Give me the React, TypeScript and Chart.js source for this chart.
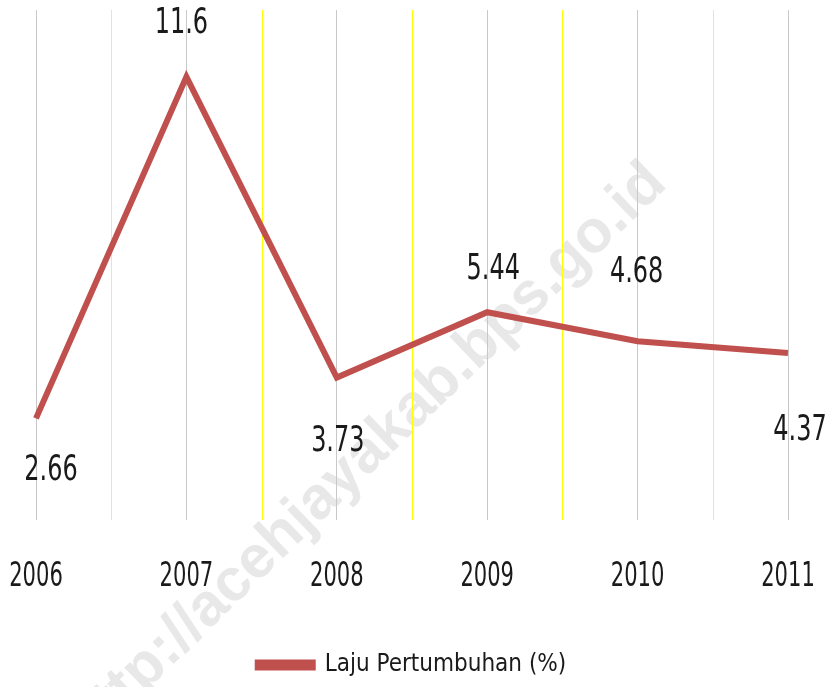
import React, { useEffect, useRef } from "react";
import { Chart, registerables } from "chart.js";

Chart.register(...registerables);

const years = ["2006", "2007", "2008", "2009", "2010", "2011"];
const growth = [2.66, 11.6, 3.73, 5.44, 4.68, 4.37];
const seriesName = "Laju Pertumbuhan (%)";
const watermark = "http://acehjayakab.bps.go.id";

const labelOffsets: [number, number][] = [
  [15, 52],
  [-5, -53],
  [1, 64],
  [6, -43],
  [-1, -69],
  [12, 78],
];

const FONT = "'Liberation Sans Narrow', 'DejaVu Sans Condensed', 'Roboto Condensed', sans-serif";
const LINE = "#C0504D";
const TEXT = "#1a1a1a";

function narrowText(ctx: CanvasRenderingContext2D, text: string, x: number, y: number, sx: number) {
  ctx.save();
  ctx.translate(x, y);
  ctx.scale(sx, 1);
  ctx.fillText(text, 0, 0);
  ctx.restore();
}

export default function App() {
  const ref = useRef<HTMLCanvasElement | null>(null);

  useEffect(() => {
    document.body.style.margin = "0";
    const canvas = ref.current;
    if (!canvas) return;

    const watermarkPlugin = {
      id: "watermark",
      beforeDraw(chart: any) {
        const ctx = chart.ctx;
        ctx.save();
        ctx.translate(657, 174);
        ctx.rotate((-44 * Math.PI) / 180);
        ctx.font = "bold 60px 'Liberation Sans', Arial, sans-serif";
        ctx.fillStyle = "rgba(222,222,222,0.7)";
        ctx.textAlign = "right";
        ctx.textBaseline = "middle";
        ctx.fillText(watermark, 0, 0);
        ctx.restore();
      },
    };

    const midLines = {
      id: "midLines",
      beforeDatasetsDraw(chart: any) {
        const { ctx, chartArea, scales } = chart;
        const x = scales.x;
        ctx.save();
        ctx.strokeStyle = "#FFFF00";
        ctx.lineWidth = 1;
        for (let i = 0; i < years.length - 1; i++) {
          const px = Math.round(x.getPixelForValue(i + 0.5)) + 0.5;
          ctx.beginPath();
          ctx.moveTo(px, chartArea.top);
          ctx.lineTo(px, chartArea.bottom);
          ctx.stroke();
        }
        ctx.restore();
      },
    };

    const textPlugin = {
      id: "texts",
      afterDatasetsDraw(chart: any) {
        const { ctx, scales } = chart;
        const meta = chart.getDatasetMeta(0);
        ctx.save();
        ctx.fillStyle = TEXT;
        ctx.textAlign = "center";
        ctx.textBaseline = "middle";
        ctx.font = `36px ${FONT}`;
        meta.data.forEach((pt: any, i: number) => {
          const [dx, dy] = labelOffsets[i];
          narrowText(ctx, String(growth[i]), pt.x + dx, pt.y + dy, 0.74);
        });
        ctx.font = `33px ${FONT}`;
        const yTick = scales.x.top + 57;
        years.forEach((yr, i) => {
          narrowText(ctx, yr, scales.x.getPixelForValue(i), yTick, 0.71);
        });
        ctx.restore();
      },
    };

    const chart = new Chart(canvas, {
      type: "line",
      data: {
        labels: years,
        datasets: [
          {
            label: seriesName,
            data: growth,
            borderColor: LINE,
            backgroundColor: LINE,
            borderWidth: 6,
            borderJoinStyle: "miter",
            pointRadius: 0,
            tension: 0,
          },
        ],
      },
      options: {
        animation: false,
        responsive: false,
        layout: { padding: { left: 36, right: 48, top: 10, bottom: 0 } },
        scales: {
          x: {
            offset: false,
            grid: { color: "#C8C8C8", lineWidth: 1, drawTicks: false },
            border: { display: false },
            ticks: { display: false },
            afterFit(scale: any) {
              scale.height = 126;
              scale.paddingLeft = 0;
              scale.paddingRight = 0;
            },
          },
          y: {
            display: false,
            min: 0,
            max: 13.35,
          },
        },
        plugins: {
          legend: {
            position: "bottom",
            labels: {
              boxWidth: 55,
              boxHeight: 5,
              padding: 7,
              color: TEXT,
              font: { family: FONT, size: 24 },
            },
          },
          tooltip: { enabled: false },
        },
      },
      plugins: [watermarkPlugin, midLines, textPlugin],
    });

    return () => chart.destroy();
  }, []);

  return (
    <div style={{ width: 836, height: 687, background: "#fff" }}>
      <canvas ref={ref} width={836} height={687} style={{ display: "block" }} />
    </div>
  );
}
